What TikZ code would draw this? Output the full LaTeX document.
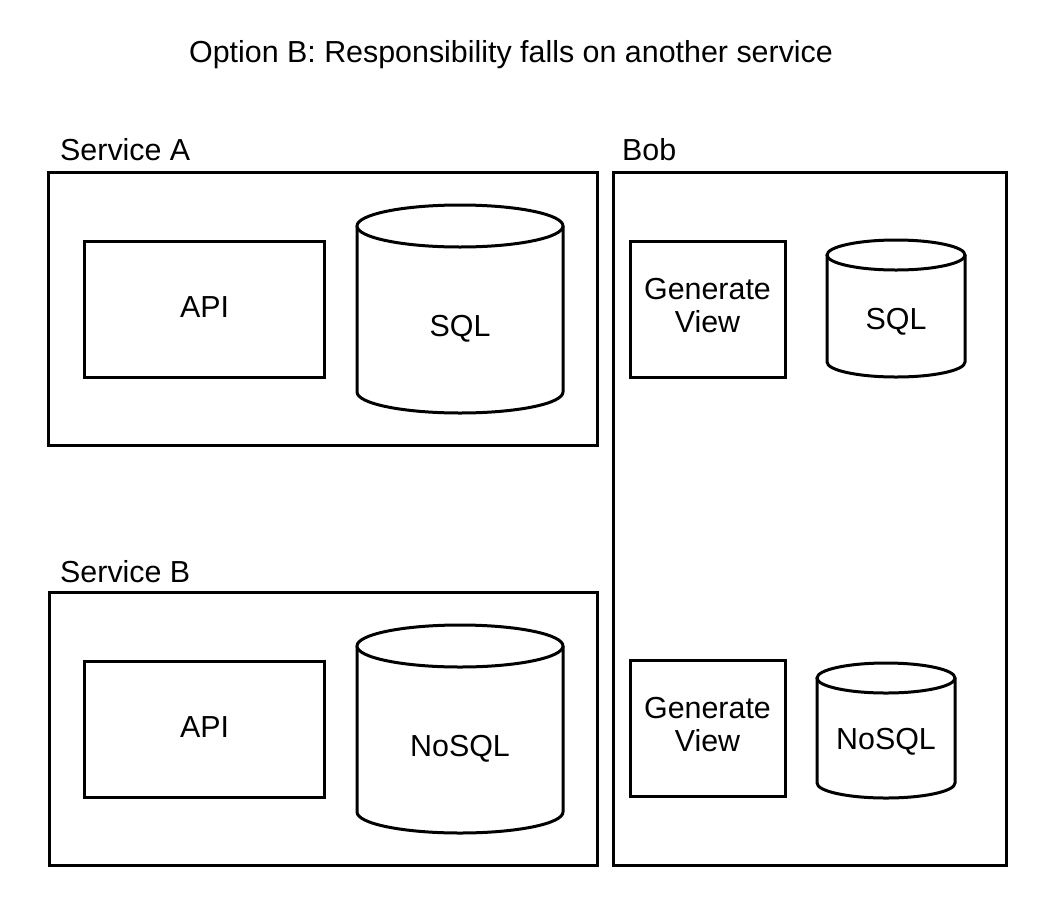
\documentclass[tikz,border=0pt]{standalone}
\usepackage{fontspec}
\setmainfont{Liberation Sans}
\begin{document}
\begin{tikzpicture}[x=1pt,y=-1pt,
  box/.style={draw=black,line width=3pt,line join=miter},
  lbl/.style={font=\fontsize{30.4}{34}\selectfont,inner sep=0pt},
  cyl/.style={draw=black,line width=3pt,fill=white}]
\useasboundingbox[fill=white] (0,0) rectangle (1064,908);
\newcommand{\dbcyl}[6]{%
  % #1 name, #2 cx, #3 top center y, #4 bottom center y, #5 rx, #6 ry
  \draw[cyl] (#2-#5,#3) -- (#2-#5,#4) arc[start angle=180,end angle=0,x radius=#5,y radius=#6] -- (#2+#5,#3);
  \draw[cyl] (#2,#3) ellipse[x radius=#5,y radius=#6];
}
% title
\node[lbl,anchor=center] (title) at (511,55) {Option B: Responsibility falls on another service};
% Service A
\draw[box] (48,172) rectangle (597,445);
\node[lbl,anchor=west] (labA) at (60,150) {Service A};
\node[box,lbl,minimum width=240pt,minimum height=136pt,align=center] (apiA) at (204.5,309) {\raisebox{3pt}{API}};
\dbcyl{sqlA}{460}{226}{392}{103}{21}
\node[lbl] (sqlAt) at (460,329) {SQL};
% Service B
\draw[box] (49,592) rectangle (597,865);
\node[lbl,anchor=west] (labB) at (60,572) {Service B};
\node[box,lbl,minimum width=240pt,minimum height=136pt,align=center] (apiB) at (204.5,729) {\raisebox{3pt}{API}};
\dbcyl{nosqlB}{460}{646}{812}{103}{21}
\node[lbl] (nosqlBt) at (460,749) {NoSQL};
% Bob
\draw[box] (613,172) rectangle (1006,865);
\node[lbl,anchor=west] (labBob) at (622,150) {Bob};
\node[box,lbl,minimum width=155pt,minimum height=136pt,align=center] (gv1) at (707.5,309) {\raisebox{3pt}{\begin{tabular}{@{}c@{}}Generate\\[-1pt]View\end{tabular}}};
\dbcyl{sqlBob}{896}{255}{362}{69}{15}
\node[lbl] (sqlBobt) at (896,322) {SQL};
\node[box,lbl,minimum width=155pt,minimum height=136pt,align=center] (gv2) at (707.5,728.5) {\raisebox{3pt}{\begin{tabular}{@{}c@{}}Generate\\[-1pt]View\end{tabular}}};
\dbcyl{nosqlBob}{886}{678}{783}{69}{15}
\node[lbl] (nosqlBobt) at (886,742) {NoSQL};
\end{tikzpicture}
\end{document}
